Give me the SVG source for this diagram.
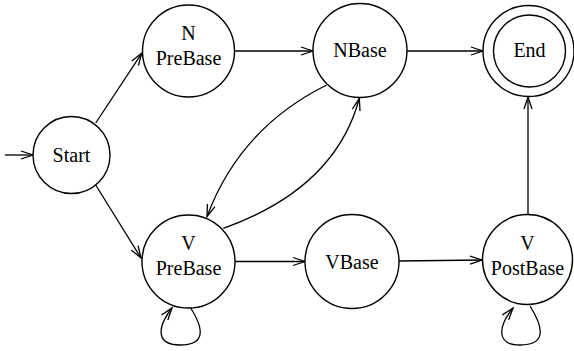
<svg xmlns="http://www.w3.org/2000/svg" width="574" height="351" viewBox="0 0 574 351">
<style>
.node circle{fill:#fff;stroke:#000;stroke-width:1.4}
.node text{font-family:'Liberation Serif','Times New Roman','DejaVu Serif',serif;font-size:20px;fill:#000;text-anchor:middle}
.edges path{fill:none;stroke:#000;stroke-width:1.3;marker-end:url(#arr)}
</style>
<defs>
<marker id="arr" markerUnits="userSpaceOnUse" markerWidth="14" markerHeight="10" viewBox="-1 -1 14 10" refX="12" refY="4" orient="auto" overflow="visible">
<path d="M0,0 L12,4 L0,8" fill="none" stroke="#000" stroke-width="1.3"/>
</marker>
</defs>
<g class="edges" id="edges">
<path d="M5,155 L33,155"/>
<path d="M95.7,123 L141.7,53.3"/>
<path d="M95.7,185 L141,258"/>
<path d="M234,51 L313,51"/>
<path d="M407,51 L483,51"/>
<path d="M235,261.5 L305,261.5"/>
<path d="M399,261 L482,260"/>
<path d="M528,214 L528,97"/>
<path d="M326.7,85 Q240,128 207,216.5"/>
<path d="M223.3,228.3 Q335,188.6 359.3,98.5"/>
<path d="M190,307 C205,330 205,345 180,345 C158,345 155,330 172,308"/>
<path d="M530,306 C545,330 545,345 520,345 C497,345 497,328 513,308"/>
</g>
<g class="node" id="start"><circle cx="71.5" cy="155" r="38.5"/><text x="71.5" y="162" font-family="Liberation Serif, serif">Start</text></g>
<g class="node" id="npre"><circle cx="188.5" cy="51" r="46"/><text x="188.5" y="39.5" font-family="Liberation Serif, serif">N</text><text x="188.5" y="64.5" font-family="Liberation Serif, serif">PreBase</text></g>
<g class="node" id="nbase"><circle cx="360" cy="50.5" r="47"/><text x="360" y="56.5" font-family="Liberation Serif, serif">NBase</text></g>
<g class="node" id="end"><circle cx="528.5" cy="51" r="45.5"/><circle cx="529.5" cy="51" r="36"/><text x="529.5" y="57" font-family="Liberation Serif, serif">End</text></g>
<g class="node" id="vpre"><circle cx="188.5" cy="261.5" r="46.5"/><text x="188.5" y="250" font-family="Liberation Serif, serif">V</text><text x="188.5" y="274.5" font-family="Liberation Serif, serif">PreBase</text></g>
<g class="node" id="vbase"><circle cx="352" cy="261.5" r="47"/><text x="352" y="268.5" font-family="Liberation Serif, serif">VBase</text></g>
<g class="node" id="vpost"><circle cx="527.5" cy="259.5" r="45"/><text x="527.5" y="250" font-family="Liberation Serif, serif">V</text><text x="527.5" y="275" font-family="Liberation Serif, serif">PostBase</text></g>
</svg>
